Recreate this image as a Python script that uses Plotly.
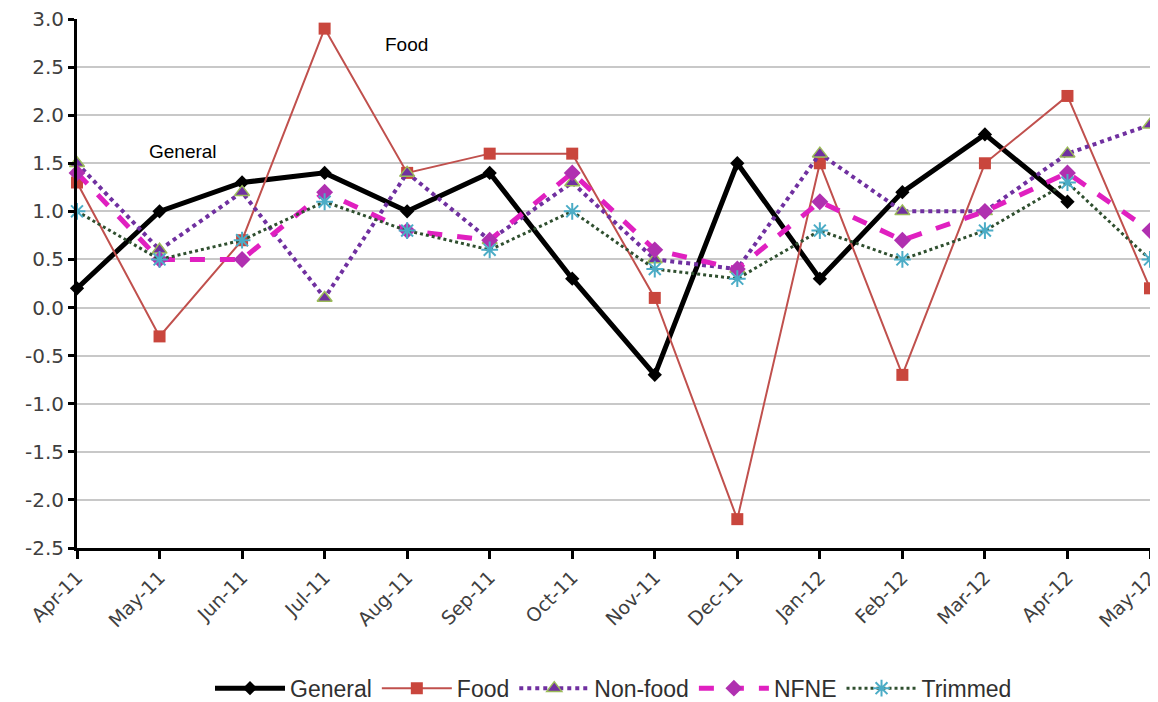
import plotly.graph_objects as go

months = ["Apr-11", "May-11", "Jun-11", "Jul-11", "Aug-11", "Sep-11", "Oct-11",
          "Nov-11", "Dec-11", "Jan-12", "Feb-12", "Mar-12", "Apr-12", "May-12"]
general = [0.2, 1.0, 1.3, 1.4, 1.0, 1.4, 0.3, -0.7, 1.5, 0.3, 1.2, 1.8, 1.1, None]
food = [1.3, -0.3, 0.7, 2.9, 1.4, 1.6, 1.6, 0.1, -2.2, 1.5, -0.7, 1.5, 2.2, 0.2]
nonfood = [1.5, 0.6, 1.2, 0.1, 1.4, 0.7, 1.3, 0.5, 0.4, 1.6, 1.0, 1.0, 1.6, 1.9]
nfne = [1.4, 0.5, 0.5, 1.2, 0.8, 0.7, 1.4, 0.6, 0.4, 1.1, 0.7, 1.0, 1.4, 0.8]
trimmed = [1.0, 0.5, 0.7, 1.1, 0.8, 0.6, 1.0, 0.4, 0.3, 0.8, 0.5, 0.8, 1.3, 0.5]
y_ticks = [-2.5, -2.0, -1.5, -1.0, -0.5, 0.0, 0.5, 1.0, 1.5, 2.0, 2.5, 3.0]
y_ticktext = ["-2.5", "-2.0", "-1.5", "-1.0", "-0.5", "0.0", "0.5", "1.0", "1.5", "2.0", "2.5", "3.0"]

xi = list(range(len(months)))
fig = go.Figure()

fig.add_trace(go.Scatter(x=xi, y=general, name="General", mode="lines+markers",
    line=dict(color="black", width=5), marker=dict(symbol="diamond", size=11, color="black"),
    cliponaxis=False))
fig.add_trace(go.Scatter(x=xi, y=food, name="Food", mode="lines+markers",
    line=dict(color="#c0504d", width=2), marker=dict(symbol="square", size=12, color="#c9463d"),
    cliponaxis=False))
fig.add_trace(go.Scatter(x=xi, y=nonfood, name="Non-food", mode="lines+markers",
    line=dict(color="#7030a0", width=4, dash="dot"),
    marker=dict(symbol="triangle-up", size=13, color="#7030a0", line=dict(color="#9bbb59", width=1.5)),
    cliponaxis=False))
fig.add_trace(go.Scatter(x=xi, y=nfne, name="NFNE", mode="lines+markers",
    line=dict(color="#e020c0", width=5, dash="dash"),
    marker=dict(symbol="diamond", size=13, color="#b030b0"),
    cliponaxis=False))
fig.add_trace(go.Scatter(x=xi, y=trimmed, name="Trimmed", mode="lines+markers",
    line=dict(color="#2f4f2f", width=3, dash="dot"),
    marker=dict(symbol="asterisk-open", size=14, color="#4bacc6", line=dict(color="#4bacc6", width=2)),
    cliponaxis=False))

# the page body has an 8px default margin: figure is 8px smaller and offset by 8px
fig.update_layout(
    width=1150, height=694,
    font=dict(family="DejaVu Sans", size=20, color="#404040"),
    paper_bgcolor="white", plot_bgcolor="white",
    margin=dict(l=69, r=8, t=11, b=154, autoexpand=False),
    showlegend=True,
    legend=dict(orientation="h", x=0.5, xanchor="center", y=-0.265, yanchor="middle",
                font=dict(family="Liberation Sans Narrow, Arial Narrow, sans-serif",
                          size=23, color="#303030"),
                itemwidth=70, tracegroupgap=0),
    annotations=[
        dict(x=1.28, y=1.62, xref="x", yref="y", text="General", showarrow=False,
             font=dict(family="Liberation Sans, Arial, sans-serif", size=19, color="black")),
        dict(x=3.99, y=2.74, xref="x", yref="y", text="Food", showarrow=False,
             font=dict(family="Liberation Sans, Arial, sans-serif", size=19, color="black")),
    ],
)
fig.update_xaxes(tickmode="array", tickvals=xi, ticktext=months, range=[0, 13],
                 tickangle=-45, showgrid=False, zeroline=False,
                 showline=True, linecolor="black", linewidth=3, automargin=False,
                 ticks="outside", ticklen=8, tickwidth=3, tickcolor="black",
                 ticklabeloverflow="allow",
                 tickfont=dict(family="DejaVu Sans", size=19, color="#404040"))
fig.update_yaxes(range=[-2.5, 3.0], tickmode="array", tickvals=y_ticks, ticktext=y_ticktext,
                 automargin=False, showgrid=True, gridcolor="#c8c8c8", gridwidth=2, zeroline=False,
                 showline=True, linecolor="black", linewidth=3,
                 ticks="outside", ticklen=6, tickwidth=3, tickcolor="black",
                 ticklabeloverflow="allow",
                 tickfont=dict(family="DejaVu Sans", size=20, color="#404040"))

fig.write_html("out.html")
